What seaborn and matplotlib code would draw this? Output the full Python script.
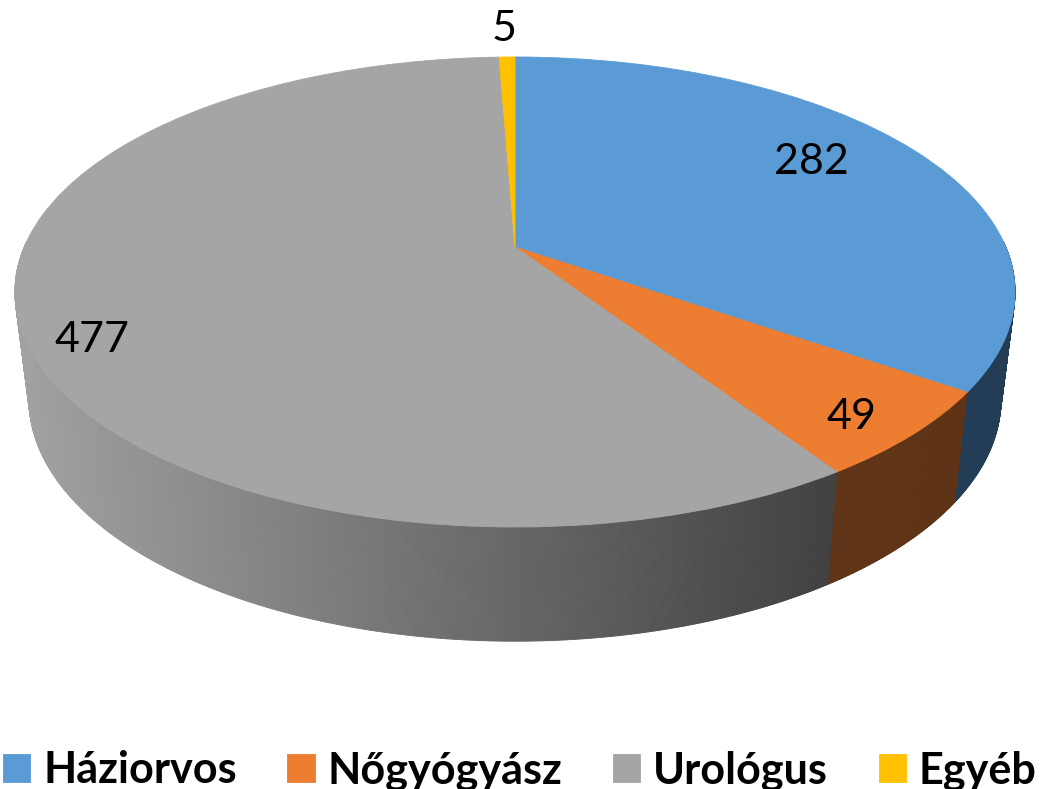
import numpy as np
import seaborn as sns
import matplotlib
matplotlib.use('Agg')
import matplotlib.pyplot as plt
from matplotlib.collections import PolyCollection
from matplotlib.colors import to_rgb
from matplotlib.transforms import Transform

# Data
categories = ['Háziorvos', 'Nőgyógyász', 'Urológus', 'Egyéb']
counts = [282, 49, 477, 5]

colors = ['#5B9BD5', '#ED7D31', '#A5A5A5', '#FFC000']
wall_left = ['#223D55', '#5F3315', '#A2A2A2', '#7F6000']
wall_right = ['#223D55', '#5F3315', '#3F3F3F', '#7F6000']
label_pos = [(811, 162), (851, 417), (92, 340), (504, 29)]

# Perspective of the pie, in pixels of the picture
TILT = 0.1915
TOP = (515, 247, 490.8, 226.4)
BOTTOM = (515, 353, 477, 233)


def project(x, y, plane):
    cx, cy, a, b = plane
    w = 1 + TILT * y
    return cx + a * x / w, cy - b * y / w


class PieTransform(Transform):
    input_dims = 2
    output_dims = 2
    is_affine = False
    has_inverse = False

    def __init__(self, plane):
        super().__init__()
        self.plane = plane

    def transform_non_affine(self, values):
        values = np.asarray(values)
        u, v = project(values[:, 0], values[:, 1], self.plane)
        return np.column_stack([u, v])


sns.set_theme(style='white')
plt.rcParams['font.family'] = ['Lato', 'DejaVu Sans']
palette = sns.color_palette(colors)

fig, ax = plt.subplots(figsize=(10.43, 7.89), dpi=100)
fig.subplots_adjust(left=0, right=1, bottom=0, top=1)

wedges, _ = ax.pie(counts, colors=palette, startangle=90, counterclock=False, radius=1)
ax.set_aspect('auto')
ax.set_xlim(0, 1043)
ax.set_ylim(789, 0)
ax.axis('off')

top_transform = PieTransform(TOP) + ax.transData
for wedge in wedges:
    wedge.set_transform(top_transform)
    wedge.set_zorder(5)
    wedge.set_edgecolor(wedge.get_facecolor())
    wedge.set_linewidth(0.6)

# Side wall, cut in thin strips so the grey can darken to the right
edges = np.cumsum([0] + counts) / sum(counts) * 2 * np.pi
for i in range(len(counts)):
    t = np.linspace(edges[i], edges[i + 1], max(2, int((edges[i + 1] - edges[i]) * 300)))
    x, y = np.sin(t), np.cos(t)
    ut, vt = project(x, y, TOP)
    ub, vb = project(x, y, BOTTOM)
    polys = []
    shades = []
    for j in range(len(t) - 1):
        # the back of the wall is hidden behind the top face
        if y[j] > 0.02 and y[j + 1] > 0.02:
            continue
        polys.append([(ut[j], vt[j]), (ut[j + 1], vt[j + 1]), (ub[j + 1], vb[j + 1]), (ub[j], vb[j])])
        f = np.clip((ub[j] - 25) / 810, 0, 1)
        shades.append(tuple((1 - f) * np.array(to_rgb(wall_left[i])) + f * np.array(to_rgb(wall_right[i]))))
    ax.add_collection(PolyCollection(polys, facecolors=shades, edgecolors=shades, linewidths=0.6, zorder=2))

for value, pos in zip(counts, label_pos):
    ax.text(pos[0], pos[1], str(value), ha='center', va='center', fontsize=31, color='black', zorder=6)

leg = ax.legend(wedges, categories, loc='lower left', bbox_to_anchor=(0.003, -0.002), ncol=4, frameon=False,
                handlelength=0.63, handleheight=0.63, handletextpad=0.3, columnspacing=1.17,
                prop={'weight': 'bold', 'size': 31.1}, labelcolor='black', borderpad=0, borderaxespad=0)

plt.savefig('out.png', dpi=100)
